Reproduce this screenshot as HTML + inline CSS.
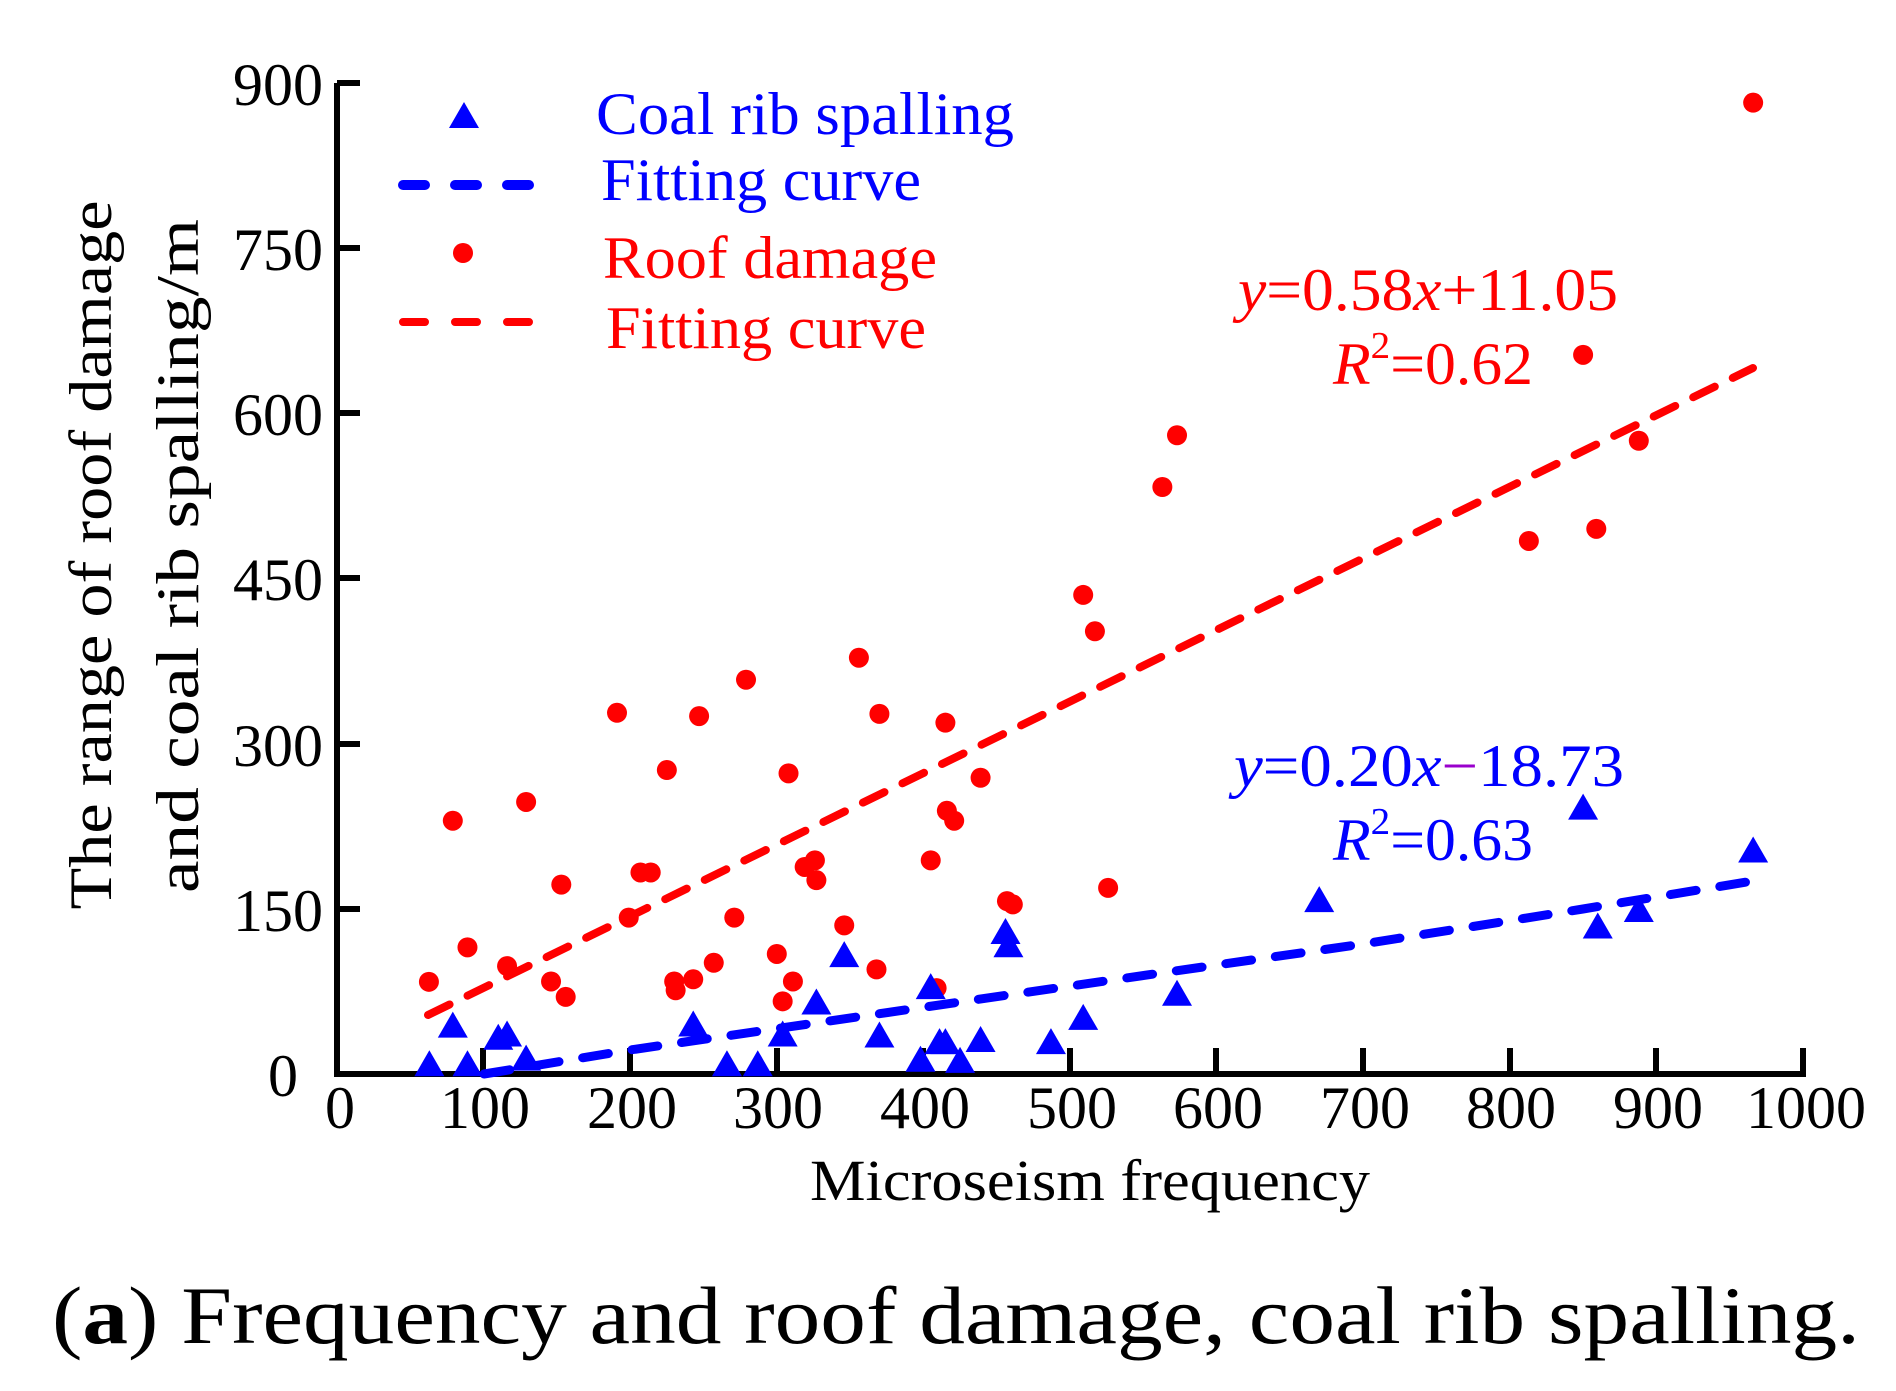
<!DOCTYPE html>
<html><head><meta charset="utf-8"><style>
html,body{margin:0;padding:0;background:#fff;}
svg{display:block;}
text{font-family:"Liberation Serif","Times New Roman","DejaVu Serif",serif;}
</style></head><body>
<svg width="1896" height="1391" viewBox="0 0 1896 1391" xmlns="http://www.w3.org/2000/svg">
<defs>
<path id="tri" d="M0,-15 L15,11 L-15,11 Z" fill="#0000ff"/>
</defs>
<g stroke="#000" stroke-width="6" fill="none">
<path d="M337,83 L337,1074 L1806,1074"/>
<path d="M337,83 L360,83 M337,248 L360,248 M337,413 L360,413 M337,578 L360,578 M337,744 L360,744 M337,909 L360,909"/>
<path d="M483,1074 L483,1048 M630,1074 L630,1048 M777,1074 L777,1048 M923,1074 L923,1048 M1070,1074 L1070,1048 M1216,1074 L1216,1048 M1363,1074 L1363,1048 M1510,1074 L1510,1048 M1656,1074 L1656,1048 M1803,1074 L1803,1048"/>
</g>
<g font-size="60" fill="#000" text-anchor="end">
<text x="323" y="105">900</text>
<text x="323" y="270">750</text>
<text x="323" y="435">600</text>
<text x="323" y="600">450</text>
<text x="323" y="766">300</text>
<text x="323" y="931">150</text>
<text x="298" y="1096">0</text>
</g>
<g font-size="60" fill="#000" text-anchor="middle">
<text x="340" y="1128">0</text>
<text x="485" y="1128">100</text>
<text x="632" y="1128">200</text>
<text x="778" y="1128">300</text>
<text x="925" y="1128">400</text>
<text x="1072" y="1128">500</text>
<text x="1218" y="1128">600</text>
<text x="1365" y="1128">700</text>
<text x="1511" y="1128">800</text>
<text x="1658" y="1128">900</text>
<text x="1806" y="1128">1000</text>
</g>
<text x="1090" y="1200" font-size="58" text-anchor="middle" textLength="560" lengthAdjust="spacingAndGlyphs">Microseism frequency</text>
<text transform="translate(111,555) rotate(-90)" font-size="60" text-anchor="middle" textLength="709" lengthAdjust="spacingAndGlyphs">The range of roof damage</text>
<text transform="translate(198,556) rotate(-90)" font-size="60" text-anchor="middle" textLength="674" lengthAdjust="spacingAndGlyphs">and coal rib spalling/m</text>
<text x="52" y="1343" font-size="82" textLength="1808" lengthAdjust="spacingAndGlyphs">(<tspan font-weight="bold">a</tspan>) Frequency and roof damage, coal rib spalling.</text>

<use href="#tri" x="464" y="117"/>
<line x1="403" y1="185" x2="529" y2="185" stroke="#0000ff" stroke-width="10" stroke-linecap="round" stroke-dasharray="22 30"/>
<circle cx="463" cy="253" r="10" fill="#ff0000"/>
<line x1="403" y1="322" x2="529" y2="322" stroke="#ff0000" stroke-width="8" stroke-linecap="round" stroke-dasharray="22 30"/>
<g font-size="60">
<text x="596" y="134" fill="#0000ff" textLength="418" lengthAdjust="spacingAndGlyphs">Coal rib spalling</text>
<text x="601" y="200" fill="#0000ff" textLength="320" lengthAdjust="spacingAndGlyphs">Fitting curve</text>
<text x="603" y="278" fill="#ff0000" textLength="334" lengthAdjust="spacingAndGlyphs">Roof damage</text>
<text x="606" y="348" fill="#ff0000" textLength="320" lengthAdjust="spacingAndGlyphs">Fitting curve</text>
</g>

<g font-size="60">
<text x="1238" y="310" fill="#ff0000" textLength="380" lengthAdjust="spacingAndGlyphs"><tspan font-style="italic">y</tspan>=0.58<tspan font-style="italic">x</tspan>+11.05</text>
<text x="1333" y="384" fill="#ff0000" textLength="200" lengthAdjust="spacingAndGlyphs"><tspan font-style="italic">R</tspan><tspan font-size="38" dy="-26">2</tspan><tspan dy="26">=0.62</tspan></text>
<text x="1234" y="786" fill="#0000ff" textLength="390" lengthAdjust="spacingAndGlyphs"><tspan font-style="italic">y</tspan>=0.20<tspan font-style="italic">x</tspan><tspan fill="#9900cc">−</tspan>18.73</text>
<text x="1333" y="860" fill="#0000ff" textLength="200" lengthAdjust="spacingAndGlyphs"><tspan font-style="italic">R</tspan><tspan font-size="38" dy="-26">2</tspan><tspan dy="26">=0.63</tspan></text>
</g>

<line x1="428" y1="1015" x2="1753" y2="368" stroke="#ff0000" stroke-width="8" stroke-linecap="round" stroke-dasharray="24 20"/>
<polyline points="484,1074 630,1050 1008,995 1363,944 1583,909 1753,881" fill="none" stroke="#0000ff" stroke-width="9" stroke-linecap="round" stroke-dasharray="26 24"/>

<g fill="#ff0000" id="dots"></g>
<g id="tris"></g>
</svg>
<script>
var red=[[62.7,83.7],[79,230],[89,115],[116,98],[129,247],[146,84],[153,172],[156,70],[191,328],[199,142],[207,183],[214,183],[225,276],[230,84],[231,76],[243,86],[247,325],[257,101],[271,142],[279,358],[300,109],[304,66],[308,273],[311,84],[319,188],[326,194],[327,176],[346,135],[356,378],[368,95],[370,327],[405,194],[409,78],[415,319],[416,239],[421,230],[439,269],[457,157],[461,154],[509,435],[517,402],[526,169],[563,533],[573,580],[813,484],[850,653],[859,495],[888,575],[966,882]];
var blue=[[63,8],[79,43],[89,8],[110,32],[116,35],[129,13],[243,44],[266,8],[287,8],[304,35],[327,64],[346,107],[370,34],[398,12],[405,78],[411,28],[415,28],[425,11],[439,30],[456,128],[458,116],[487,28],[509,50],[573,72],[670,157],[850,241],[860,133],[888,148],[966,202]];
var ns="http://www.w3.org/2000/svg";
function px(x){return 337+x*1.466;} function py(y){return 1074-y*1.1013;}
var g=document.getElementById('dots');
red.forEach(function(p){var c=document.createElementNS(ns,'circle');c.setAttribute('cx',px(p[0]));c.setAttribute('cy',py(p[1]));c.setAttribute('r',10);g.appendChild(c);});
var t=document.getElementById('tris');
blue.forEach(function(p){var u=document.createElementNS(ns,'use');u.setAttribute('href','#tri');u.setAttribute('x',px(p[0]));u.setAttribute('y',py(p[1]));t.appendChild(u);});
</script>
</body></html>
